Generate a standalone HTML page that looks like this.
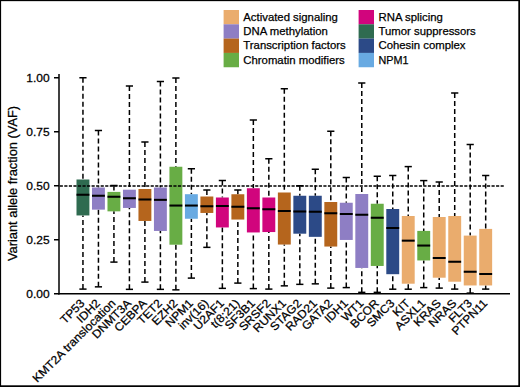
<!DOCTYPE html><html><head><meta charset="utf-8"><style>html,body{margin:0;padding:0;background:#fff;}svg{display:block;}text{font-family:"Liberation Sans",sans-serif;fill:#000;stroke:#000;stroke-width:0.25px;}</style></head><body>
<svg width="520" height="387" viewBox="0 0 520 387">
<rect x="0" y="0" width="520" height="387" fill="#fff"/>
<rect x="223.6" y="10.00" width="15.4" height="14.35" fill="#EAAC6D"/>
<text x="243.3" y="20.60" font-size="11.35">Activated signaling</text>
<rect x="223.6" y="24.30" width="15.4" height="14.35" fill="#8E7EC4"/>
<text x="243.3" y="34.90" font-size="11.35">DNA methylation</text>
<rect x="223.6" y="38.60" width="15.4" height="14.35" fill="#B5651D"/>
<text x="243.3" y="49.20" font-size="11.35">Transcription factors</text>
<rect x="223.6" y="52.90" width="15.4" height="14.35" fill="#68AD45"/>
<text x="243.3" y="63.50" font-size="11.35">Chromatin modifiers</text>
<rect x="358.6" y="10.00" width="15.4" height="14.35" fill="#D1057D"/>
<text x="378.5" y="20.60" font-size="11.35">RNA splicing</text>
<rect x="358.6" y="24.30" width="15.4" height="14.35" fill="#2F6B50"/>
<text x="378.5" y="34.90" font-size="11.35">Tumor suppressors</text>
<rect x="358.6" y="38.60" width="15.4" height="14.35" fill="#2C4A87"/>
<text x="378.5" y="49.20" font-size="11.35">Cohesin complex</text>
<rect x="358.6" y="52.90" width="15.4" height="14.35" fill="#68AAE2"/>
<text x="378.5" y="63.50" font-size="11.35" textLength="30" lengthAdjust="spacingAndGlyphs">NPM1</text>
<line x1="82.95" y1="77.75" x2="82.95" y2="179.5" stroke="#000" stroke-width="1.5" stroke-dasharray="5 3"/>
<line x1="82.95" y1="289.1" x2="82.95" y2="215.45" stroke="#000" stroke-width="1.5" stroke-dasharray="5 3"/>
<line x1="79.35" y1="77.75" x2="86.55" y2="77.75" stroke="#000" stroke-width="1.5"/>
<line x1="79.35" y1="289.1" x2="86.55" y2="289.1" stroke="#000" stroke-width="1.5"/>
<rect x="76.50" y="179.5" width="12.9" height="35.95" fill="#2F6B50"/>
<line x1="76.50" y1="194.75" x2="89.40" y2="194.75" stroke="#000" stroke-width="2.05"/>
<line x1="98.44" y1="130.5" x2="98.44" y2="187.5" stroke="#000" stroke-width="1.5" stroke-dasharray="5 3"/>
<line x1="98.44" y1="286.85" x2="98.44" y2="209.64999999999998" stroke="#000" stroke-width="1.5" stroke-dasharray="5 3"/>
<line x1="94.84" y1="130.5" x2="102.04" y2="130.5" stroke="#000" stroke-width="1.5"/>
<line x1="94.84" y1="286.85" x2="102.04" y2="286.85" stroke="#000" stroke-width="1.5"/>
<rect x="91.99" y="187.5" width="12.9" height="22.15" fill="#8E7EC4"/>
<line x1="91.99" y1="195.75" x2="104.89" y2="195.75" stroke="#000" stroke-width="2.05"/>
<line x1="113.93" y1="185.5" x2="113.93" y2="191.9" stroke="#000" stroke-width="1.5" stroke-dasharray="5 3"/>
<line x1="113.93" y1="262.1" x2="113.93" y2="211.35" stroke="#000" stroke-width="1.5" stroke-dasharray="5 3"/>
<line x1="110.33" y1="185.5" x2="117.53" y2="185.5" stroke="#000" stroke-width="1.5"/>
<line x1="110.33" y1="262.1" x2="117.53" y2="262.1" stroke="#000" stroke-width="1.5"/>
<rect x="107.48" y="191.9" width="12.9" height="19.45" fill="#68AD45"/>
<line x1="107.48" y1="196.75" x2="120.38" y2="196.75" stroke="#000" stroke-width="2.05"/>
<line x1="129.42" y1="86.0" x2="129.42" y2="189.7" stroke="#000" stroke-width="1.5" stroke-dasharray="5 3"/>
<line x1="129.42" y1="289.35" x2="129.42" y2="207.95" stroke="#000" stroke-width="1.5" stroke-dasharray="5 3"/>
<line x1="125.82" y1="86.0" x2="133.02" y2="86.0" stroke="#000" stroke-width="1.5"/>
<line x1="125.82" y1="289.35" x2="133.02" y2="289.35" stroke="#000" stroke-width="1.5"/>
<rect x="122.97" y="189.7" width="12.9" height="18.25" fill="#8E7EC4"/>
<line x1="122.97" y1="198.25" x2="135.87" y2="198.25" stroke="#000" stroke-width="2.05"/>
<line x1="144.91" y1="142.0" x2="144.91" y2="189.0" stroke="#000" stroke-width="1.5" stroke-dasharray="5 3"/>
<line x1="144.91" y1="282.1" x2="144.91" y2="220.95" stroke="#000" stroke-width="1.5" stroke-dasharray="5 3"/>
<line x1="141.31" y1="142.0" x2="148.51" y2="142.0" stroke="#000" stroke-width="1.5"/>
<line x1="141.31" y1="282.1" x2="148.51" y2="282.1" stroke="#000" stroke-width="1.5"/>
<rect x="138.46" y="189.0" width="12.9" height="31.95" fill="#B5651D"/>
<line x1="138.46" y1="199.5" x2="151.36" y2="199.5" stroke="#000" stroke-width="2.05"/>
<line x1="160.40" y1="81.5" x2="160.40" y2="187.5" stroke="#000" stroke-width="1.5" stroke-dasharray="5 3"/>
<line x1="160.40" y1="289.35" x2="160.40" y2="230.95" stroke="#000" stroke-width="1.5" stroke-dasharray="5 3"/>
<line x1="156.80" y1="81.5" x2="164.00" y2="81.5" stroke="#000" stroke-width="1.5"/>
<line x1="156.80" y1="289.35" x2="164.00" y2="289.35" stroke="#000" stroke-width="1.5"/>
<rect x="153.95" y="187.5" width="12.9" height="43.45" fill="#8E7EC4"/>
<line x1="153.95" y1="199.85" x2="166.85" y2="199.85" stroke="#000" stroke-width="2.05"/>
<line x1="175.89" y1="78.0" x2="175.89" y2="166.75" stroke="#000" stroke-width="1.5" stroke-dasharray="5 3"/>
<line x1="175.89" y1="289.85" x2="175.89" y2="244.7" stroke="#000" stroke-width="1.5" stroke-dasharray="5 3"/>
<line x1="172.29" y1="78.0" x2="179.49" y2="78.0" stroke="#000" stroke-width="1.5"/>
<line x1="172.29" y1="289.85" x2="179.49" y2="289.85" stroke="#000" stroke-width="1.5"/>
<rect x="169.44" y="166.75" width="12.9" height="77.95" fill="#68AD45"/>
<line x1="169.44" y1="205.55" x2="182.34" y2="205.55" stroke="#000" stroke-width="2.05"/>
<line x1="191.38" y1="168.75" x2="191.38" y2="194.2" stroke="#000" stroke-width="1.5" stroke-dasharray="5 3"/>
<line x1="191.38" y1="278.1" x2="191.38" y2="218.75" stroke="#000" stroke-width="1.5" stroke-dasharray="5 3"/>
<line x1="187.78" y1="168.75" x2="194.98" y2="168.75" stroke="#000" stroke-width="1.5"/>
<line x1="187.78" y1="278.1" x2="194.98" y2="278.1" stroke="#000" stroke-width="1.5"/>
<rect x="184.93" y="194.2" width="12.9" height="24.55" fill="#68AAE2"/>
<line x1="184.93" y1="205.55" x2="197.83" y2="205.55" stroke="#000" stroke-width="2.05"/>
<line x1="206.87" y1="190.0" x2="206.87" y2="196.5" stroke="#000" stroke-width="1.5" stroke-dasharray="5 3"/>
<line x1="206.87" y1="247.35" x2="206.87" y2="212.95" stroke="#000" stroke-width="1.5" stroke-dasharray="5 3"/>
<line x1="203.27" y1="190.0" x2="210.47" y2="190.0" stroke="#000" stroke-width="1.5"/>
<line x1="203.27" y1="247.35" x2="210.47" y2="247.35" stroke="#000" stroke-width="1.5"/>
<rect x="200.42" y="196.5" width="12.9" height="16.45" fill="#B5651D"/>
<line x1="200.42" y1="206.25" x2="213.32" y2="206.25" stroke="#000" stroke-width="2.05"/>
<line x1="222.36" y1="180.5" x2="222.36" y2="197.5" stroke="#000" stroke-width="1.5" stroke-dasharray="5 3"/>
<line x1="222.36" y1="288.35" x2="222.36" y2="227.45" stroke="#000" stroke-width="1.5" stroke-dasharray="5 3"/>
<line x1="218.76" y1="180.5" x2="225.96" y2="180.5" stroke="#000" stroke-width="1.5"/>
<line x1="218.76" y1="288.35" x2="225.96" y2="288.35" stroke="#000" stroke-width="1.5"/>
<rect x="215.91" y="197.5" width="12.9" height="29.95" fill="#D1057D"/>
<line x1="215.91" y1="206.0" x2="228.81" y2="206.0" stroke="#000" stroke-width="2.05"/>
<line x1="237.85" y1="190.0" x2="237.85" y2="194.25" stroke="#000" stroke-width="1.5" stroke-dasharray="5 3"/>
<line x1="237.85" y1="283.1" x2="237.85" y2="219.54999999999998" stroke="#000" stroke-width="1.5" stroke-dasharray="5 3"/>
<line x1="234.25" y1="190.0" x2="241.45" y2="190.0" stroke="#000" stroke-width="1.5"/>
<line x1="234.25" y1="283.1" x2="241.45" y2="283.1" stroke="#000" stroke-width="1.5"/>
<rect x="231.40" y="194.25" width="12.9" height="25.30" fill="#B5651D"/>
<line x1="231.40" y1="206.75" x2="244.30" y2="206.75" stroke="#000" stroke-width="2.05"/>
<line x1="253.34" y1="120.0" x2="253.34" y2="188.25" stroke="#000" stroke-width="1.5" stroke-dasharray="5 3"/>
<line x1="253.34" y1="288.6" x2="253.34" y2="232.45" stroke="#000" stroke-width="1.5" stroke-dasharray="5 3"/>
<line x1="249.74" y1="120.0" x2="256.94" y2="120.0" stroke="#000" stroke-width="1.5"/>
<line x1="249.74" y1="288.6" x2="256.94" y2="288.6" stroke="#000" stroke-width="1.5"/>
<rect x="246.89" y="188.25" width="12.9" height="44.20" fill="#D1057D"/>
<line x1="246.89" y1="208.25" x2="259.79" y2="208.25" stroke="#000" stroke-width="2.05"/>
<line x1="268.83" y1="158.75" x2="268.83" y2="197.5" stroke="#000" stroke-width="1.5" stroke-dasharray="5 3"/>
<line x1="268.83" y1="289.1" x2="268.83" y2="232.04999999999998" stroke="#000" stroke-width="1.5" stroke-dasharray="5 3"/>
<line x1="265.23" y1="158.75" x2="272.43" y2="158.75" stroke="#000" stroke-width="1.5"/>
<line x1="265.23" y1="289.1" x2="272.43" y2="289.1" stroke="#000" stroke-width="1.5"/>
<rect x="262.38" y="197.5" width="12.9" height="34.55" fill="#D1057D"/>
<line x1="262.38" y1="209.25" x2="275.28" y2="209.25" stroke="#000" stroke-width="2.05"/>
<line x1="284.32" y1="88.75" x2="284.32" y2="192.5" stroke="#000" stroke-width="1.5" stroke-dasharray="5 3"/>
<line x1="284.32" y1="285.85" x2="284.32" y2="244.54999999999998" stroke="#000" stroke-width="1.5" stroke-dasharray="5 3"/>
<line x1="280.72" y1="88.75" x2="287.92" y2="88.75" stroke="#000" stroke-width="1.5"/>
<line x1="280.72" y1="285.85" x2="287.92" y2="285.85" stroke="#000" stroke-width="1.5"/>
<rect x="277.87" y="192.5" width="12.9" height="52.05" fill="#B5651D"/>
<line x1="277.87" y1="211.0" x2="290.77" y2="211.0" stroke="#000" stroke-width="2.05"/>
<line x1="299.81" y1="185.75" x2="299.81" y2="195.75" stroke="#000" stroke-width="1.5" stroke-dasharray="5 3"/>
<line x1="299.81" y1="284.35" x2="299.81" y2="233.7" stroke="#000" stroke-width="1.5" stroke-dasharray="5 3"/>
<line x1="296.21" y1="185.75" x2="303.41" y2="185.75" stroke="#000" stroke-width="1.5"/>
<line x1="296.21" y1="284.35" x2="303.41" y2="284.35" stroke="#000" stroke-width="1.5"/>
<rect x="293.36" y="195.75" width="12.9" height="37.95" fill="#2C4A87"/>
<line x1="293.36" y1="211.5" x2="306.26" y2="211.5" stroke="#000" stroke-width="2.05"/>
<line x1="315.30" y1="169.25" x2="315.30" y2="195.75" stroke="#000" stroke-width="1.5" stroke-dasharray="5 3"/>
<line x1="315.30" y1="283.85" x2="315.30" y2="236.85" stroke="#000" stroke-width="1.5" stroke-dasharray="5 3"/>
<line x1="311.70" y1="169.25" x2="318.90" y2="169.25" stroke="#000" stroke-width="1.5"/>
<line x1="311.70" y1="283.85" x2="318.90" y2="283.85" stroke="#000" stroke-width="1.5"/>
<rect x="308.85" y="195.75" width="12.9" height="41.10" fill="#2C4A87"/>
<line x1="308.85" y1="211.75" x2="321.75" y2="211.75" stroke="#000" stroke-width="2.05"/>
<line x1="330.79" y1="131.25" x2="330.79" y2="202.0" stroke="#000" stroke-width="1.5" stroke-dasharray="5 3"/>
<line x1="330.79" y1="288.1" x2="330.79" y2="246.54999999999998" stroke="#000" stroke-width="1.5" stroke-dasharray="5 3"/>
<line x1="327.19" y1="131.25" x2="334.39" y2="131.25" stroke="#000" stroke-width="1.5"/>
<line x1="327.19" y1="288.1" x2="334.39" y2="288.1" stroke="#000" stroke-width="1.5"/>
<rect x="324.34" y="202.0" width="12.9" height="44.55" fill="#B5651D"/>
<line x1="324.34" y1="213.25" x2="337.24" y2="213.25" stroke="#000" stroke-width="2.05"/>
<line x1="346.28" y1="177.5" x2="346.28" y2="202.75" stroke="#000" stroke-width="1.5" stroke-dasharray="5 3"/>
<line x1="346.28" y1="287.6" x2="346.28" y2="239.95" stroke="#000" stroke-width="1.5" stroke-dasharray="5 3"/>
<line x1="342.68" y1="177.5" x2="349.88" y2="177.5" stroke="#000" stroke-width="1.5"/>
<line x1="342.68" y1="287.6" x2="349.88" y2="287.6" stroke="#000" stroke-width="1.5"/>
<rect x="339.83" y="202.75" width="12.9" height="37.20" fill="#8E7EC4"/>
<line x1="339.83" y1="214.0" x2="352.73" y2="214.0" stroke="#000" stroke-width="2.05"/>
<line x1="361.77" y1="83.0" x2="361.77" y2="194.0" stroke="#000" stroke-width="1.5" stroke-dasharray="5 3"/>
<line x1="361.77" y1="292.35" x2="361.77" y2="267.95" stroke="#000" stroke-width="1.5" stroke-dasharray="5 3"/>
<line x1="358.17" y1="83.0" x2="365.37" y2="83.0" stroke="#000" stroke-width="1.5"/>
<line x1="358.17" y1="292.35" x2="365.37" y2="292.35" stroke="#000" stroke-width="1.5"/>
<rect x="355.32" y="194.0" width="12.9" height="73.95" fill="#8E7EC4"/>
<line x1="355.32" y1="214.75" x2="368.22" y2="214.75" stroke="#000" stroke-width="2.05"/>
<line x1="377.26" y1="176.25" x2="377.26" y2="203.75" stroke="#000" stroke-width="1.5" stroke-dasharray="5 3"/>
<line x1="377.26" y1="292.35" x2="377.26" y2="265.95" stroke="#000" stroke-width="1.5" stroke-dasharray="5 3"/>
<line x1="373.66" y1="176.25" x2="380.86" y2="176.25" stroke="#000" stroke-width="1.5"/>
<line x1="373.66" y1="292.35" x2="380.86" y2="292.35" stroke="#000" stroke-width="1.5"/>
<rect x="370.81" y="203.75" width="12.9" height="62.20" fill="#68AD45"/>
<line x1="370.81" y1="217.75" x2="383.71" y2="217.75" stroke="#000" stroke-width="2.05"/>
<line x1="392.75" y1="175.5" x2="392.75" y2="209.0" stroke="#000" stroke-width="1.5" stroke-dasharray="5 3"/>
<line x1="392.75" y1="289.20000000000005" x2="392.75" y2="274.2" stroke="#000" stroke-width="1.5" stroke-dasharray="5 3"/>
<line x1="389.15" y1="175.5" x2="396.35" y2="175.5" stroke="#000" stroke-width="1.5"/>
<line x1="389.15" y1="289.20000000000005" x2="396.35" y2="289.20000000000005" stroke="#000" stroke-width="1.5"/>
<rect x="386.30" y="209.0" width="12.9" height="65.20" fill="#2C4A87"/>
<line x1="386.30" y1="228.0" x2="399.20" y2="228.0" stroke="#000" stroke-width="2.05"/>
<line x1="408.24" y1="166.6" x2="408.24" y2="216.0" stroke="#000" stroke-width="1.5" stroke-dasharray="5 3"/>
<line x1="408.24" y1="289.20000000000005" x2="408.24" y2="283.7" stroke="#000" stroke-width="1.5" stroke-dasharray="5 3"/>
<line x1="404.64" y1="166.6" x2="411.84" y2="166.6" stroke="#000" stroke-width="1.5"/>
<line x1="404.64" y1="289.20000000000005" x2="411.84" y2="289.20000000000005" stroke="#000" stroke-width="1.5"/>
<rect x="401.79" y="216.0" width="12.9" height="67.70" fill="#EAAC6D"/>
<line x1="401.79" y1="240.65" x2="414.69" y2="240.65" stroke="#000" stroke-width="2.05"/>
<line x1="423.73" y1="180.6" x2="423.73" y2="230.9" stroke="#000" stroke-width="1.5" stroke-dasharray="5 3"/>
<line x1="423.73" y1="287.6" x2="423.73" y2="260.45" stroke="#000" stroke-width="1.5" stroke-dasharray="5 3"/>
<line x1="420.13" y1="180.6" x2="427.33" y2="180.6" stroke="#000" stroke-width="1.5"/>
<line x1="420.13" y1="287.6" x2="427.33" y2="287.6" stroke="#000" stroke-width="1.5"/>
<rect x="417.28" y="230.9" width="12.9" height="29.55" fill="#68AD45"/>
<line x1="417.28" y1="245.55" x2="430.18" y2="245.55" stroke="#000" stroke-width="2.05"/>
<line x1="439.22" y1="182.0" x2="439.22" y2="217.0" stroke="#000" stroke-width="1.5" stroke-dasharray="5 3"/>
<line x1="439.22" y1="288.1" x2="439.22" y2="277.7" stroke="#000" stroke-width="1.5" stroke-dasharray="5 3"/>
<line x1="435.62" y1="182.0" x2="442.82" y2="182.0" stroke="#000" stroke-width="1.5"/>
<line x1="435.62" y1="288.1" x2="442.82" y2="288.1" stroke="#000" stroke-width="1.5"/>
<rect x="432.77" y="217.0" width="12.9" height="60.70" fill="#EAAC6D"/>
<line x1="432.77" y1="258.0" x2="445.67" y2="258.0" stroke="#000" stroke-width="2.05"/>
<line x1="454.71" y1="93.0" x2="454.71" y2="216.0" stroke="#000" stroke-width="1.5" stroke-dasharray="5 3"/>
<line x1="454.71" y1="289.1" x2="454.71" y2="281.7" stroke="#000" stroke-width="1.5" stroke-dasharray="5 3"/>
<line x1="451.11" y1="93.0" x2="458.31" y2="93.0" stroke="#000" stroke-width="1.5"/>
<line x1="451.11" y1="289.1" x2="458.31" y2="289.1" stroke="#000" stroke-width="1.5"/>
<rect x="448.26" y="216.0" width="12.9" height="65.70" fill="#EAAC6D"/>
<line x1="448.26" y1="261.75" x2="461.16" y2="261.75" stroke="#000" stroke-width="2.05"/>
<line x1="470.20" y1="144.5" x2="470.20" y2="235.6" stroke="#000" stroke-width="1.5" stroke-dasharray="5 3"/>
<line x1="470.20" y1="293.1" x2="470.20" y2="285.45" stroke="#000" stroke-width="1.5" stroke-dasharray="5 3"/>
<line x1="466.60" y1="144.5" x2="473.80" y2="144.5" stroke="#000" stroke-width="1.5"/>
<line x1="466.60" y1="293.1" x2="473.80" y2="293.1" stroke="#000" stroke-width="1.5"/>
<rect x="463.75" y="235.6" width="12.9" height="49.85" fill="#EAAC6D"/>
<line x1="463.75" y1="271.75" x2="476.65" y2="271.75" stroke="#000" stroke-width="2.05"/>
<line x1="485.69" y1="175.5" x2="485.69" y2="228.9" stroke="#000" stroke-width="1.5" stroke-dasharray="5 3"/>
<line x1="485.69" y1="289.1" x2="485.69" y2="285.45" stroke="#000" stroke-width="1.5" stroke-dasharray="5 3"/>
<line x1="482.09" y1="175.5" x2="489.29" y2="175.5" stroke="#000" stroke-width="1.5"/>
<line x1="482.09" y1="289.1" x2="489.29" y2="289.1" stroke="#000" stroke-width="1.5"/>
<rect x="479.24" y="228.9" width="12.9" height="56.55" fill="#EAAC6D"/>
<line x1="479.24" y1="274.0" x2="492.14" y2="274.0" stroke="#000" stroke-width="2.05"/>
<line x1="59.75" y1="186.05" x2="504" y2="186.05" stroke="#000" stroke-width="1.6" stroke-dasharray="3.15 1.395"/>
<line x1="59.0" y1="74" x2="59.0" y2="294.6" stroke="#000" stroke-width="1.5"/>
<line x1="58.25" y1="293.85" x2="510" y2="293.85" stroke="#000" stroke-width="1.5"/>
<line x1="54" y1="77.75" x2="59.0" y2="77.75" stroke="#000" stroke-width="1.5"/>
<text x="49.6" y="81.65" font-size="11" text-anchor="end" transform="translate(49.6 0) scale(1.09 1) translate(-49.6 0)">1.00</text>
<line x1="54" y1="131.75" x2="59.0" y2="131.75" stroke="#000" stroke-width="1.5"/>
<text x="49.6" y="135.65" font-size="11" text-anchor="end" transform="translate(49.6 0) scale(1.09 1) translate(-49.6 0)">0.75</text>
<line x1="54" y1="185.75" x2="59.0" y2="185.75" stroke="#000" stroke-width="1.5"/>
<text x="49.6" y="189.65" font-size="11" text-anchor="end" transform="translate(49.6 0) scale(1.09 1) translate(-49.6 0)">0.50</text>
<line x1="54" y1="239.75" x2="59.0" y2="239.75" stroke="#000" stroke-width="1.5"/>
<text x="49.6" y="243.65" font-size="11" text-anchor="end" transform="translate(49.6 0) scale(1.09 1) translate(-49.6 0)">0.25</text>
<line x1="54" y1="293.75" x2="59.0" y2="293.75" stroke="#000" stroke-width="1.5"/>
<text x="49.6" y="297.65" font-size="11" text-anchor="end" transform="translate(49.6 0) scale(1.09 1) translate(-49.6 0)">0.00</text>
<text x="0" y="0" font-size="12.85" text-anchor="middle" transform="translate(17.2 183.5) rotate(-90)">Variant allele fraction (VAF)</text>
<text x="0" y="0" font-size="11.6" text-anchor="end" transform="translate(85.40 304.0) rotate(-45) scale(1.045 1)">TP53</text>
<text x="0" y="0" font-size="11.6" text-anchor="end" transform="translate(100.89 304.0) rotate(-45) scale(1.045 1)">IDH2</text>
<text x="0" y="0" font-size="11.6" text-anchor="end" transform="translate(116.38 304.0) rotate(-45) scale(1.045 1)">KMT2A translocation</text>
<text x="0" y="0" font-size="11.6" text-anchor="end" transform="translate(131.87 304.0) rotate(-45) scale(1.045 1)">DNMT3A</text>
<text x="0" y="0" font-size="11.6" text-anchor="end" transform="translate(147.36 304.0) rotate(-45) scale(1.045 1)">CEBPA</text>
<text x="0" y="0" font-size="11.6" text-anchor="end" transform="translate(162.85 304.0) rotate(-45) scale(1.045 1)">TET2</text>
<text x="0" y="0" font-size="11.6" text-anchor="end" transform="translate(178.34 304.0) rotate(-45) scale(1.045 1)">EZH2</text>
<text x="0" y="0" font-size="11.6" text-anchor="end" transform="translate(193.83 304.0) rotate(-45) scale(1.045 1)">NPM1</text>
<text x="0" y="0" font-size="11.6" text-anchor="end" transform="translate(209.32 304.0) rotate(-45) scale(1.045 1)">inv(16)</text>
<text x="0" y="0" font-size="11.6" text-anchor="end" transform="translate(224.81 304.0) rotate(-45) scale(1.045 1)">U2AF1</text>
<text x="0" y="0" font-size="11.6" text-anchor="end" transform="translate(240.30 304.0) rotate(-45) scale(1.045 1)">t(8;21)</text>
<text x="0" y="0" font-size="11.6" text-anchor="end" transform="translate(255.79 304.0) rotate(-45) scale(1.045 1)">SF3B1</text>
<text x="0" y="0" font-size="11.6" text-anchor="end" transform="translate(271.28 304.0) rotate(-45) scale(1.045 1)">SRSF2</text>
<text x="0" y="0" font-size="11.6" text-anchor="end" transform="translate(286.77 304.0) rotate(-45) scale(1.045 1)">RUNX1</text>
<text x="0" y="0" font-size="11.6" text-anchor="end" transform="translate(302.26 304.0) rotate(-45) scale(1.045 1)">STAG2</text>
<text x="0" y="0" font-size="11.6" text-anchor="end" transform="translate(317.75 304.0) rotate(-45) scale(1.045 1)">RAD21</text>
<text x="0" y="0" font-size="11.6" text-anchor="end" transform="translate(333.24 304.0) rotate(-45) scale(1.045 1)">GATA2</text>
<text x="0" y="0" font-size="11.6" text-anchor="end" transform="translate(348.73 304.0) rotate(-45) scale(1.045 1)">IDH1</text>
<text x="0" y="0" font-size="11.6" text-anchor="end" transform="translate(364.22 304.0) rotate(-45) scale(1.045 1)">WT1</text>
<text x="0" y="0" font-size="11.6" text-anchor="end" transform="translate(379.71 304.0) rotate(-45) scale(1.045 1)">BCOR</text>
<text x="0" y="0" font-size="11.6" text-anchor="end" transform="translate(395.20 304.0) rotate(-45) scale(1.045 1)">SMC3</text>
<text x="0" y="0" font-size="11.6" text-anchor="end" transform="translate(410.69 304.0) rotate(-45) scale(1.045 1)">KIT</text>
<text x="0" y="0" font-size="11.6" text-anchor="end" transform="translate(426.18 304.0) rotate(-45) scale(1.045 1)">ASXL1</text>
<text x="0" y="0" font-size="11.6" text-anchor="end" transform="translate(441.67 304.0) rotate(-45) scale(1.045 1)">KRAS</text>
<text x="0" y="0" font-size="11.6" text-anchor="end" transform="translate(457.16 304.0) rotate(-45) scale(1.045 1)">NRAS</text>
<text x="0" y="0" font-size="11.6" text-anchor="end" transform="translate(472.65 304.0) rotate(-45) scale(1.045 1)">FLT3</text>
<text x="0" y="0" font-size="11.6" text-anchor="end" transform="translate(488.14 304.0) rotate(-45) scale(1.045 1)">PTPN11</text>
<rect x="0" y="0" width="520" height="1.15" fill="#000"/>
<rect x="0" y="0" width="1.1" height="387" fill="#000"/>
<rect x="518.3" y="0" width="1.7" height="387" fill="#000"/>
<rect x="0" y="385.3" width="520" height="1.7" fill="#000"/>
</svg></body></html>
